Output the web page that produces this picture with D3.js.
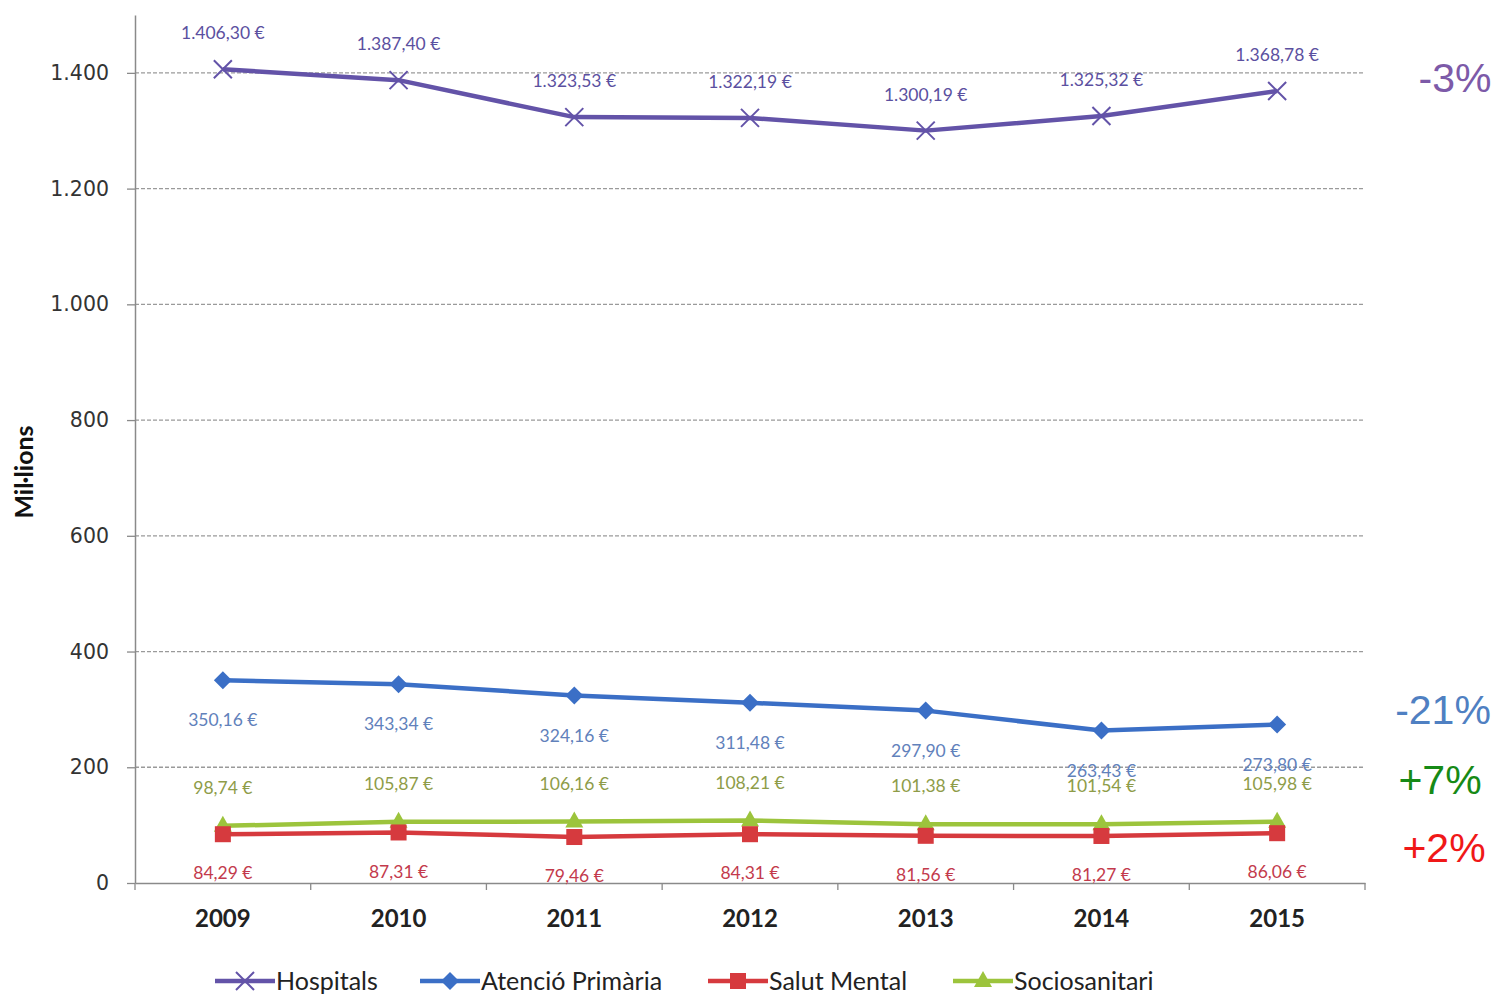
<!DOCTYPE html>
<html>
<head>
<meta charset="utf-8">
<script src="https://cdn.jsdelivr.net/npm/d3@7"></script>
<style>
  html, body { margin: 0; padding: 0; background: #fff; }
  svg { display: block; }
</style>
</head>
<body>
<svg id="chart" width="1497" height="994"></svg>
<script>
// Annual spending by healthcare area (millions of euros)
const years = ["2009", "2010", "2011", "2012", "2013", "2014", "2015"];
const hospitals = [1406.30, 1387.40, 1323.53, 1322.19, 1300.19, 1325.32, 1368.78];
const atencioPrimaria = [350.16, 343.34, 324.16, 311.48, 297.90, 263.43, 273.80];
const salutMental = [84.29, 87.31, 79.46, 84.31, 81.56, 81.27, 86.06];
const sociosanitari = [98.74, 105.87, 106.16, 108.21, 101.38, 101.54, 105.98];
const yTicks = [0, 200, 400, 600, 800, 1000, 1200, 1400];
const seriesNames = ["Hospitals", "Atenció Primària", "Salut Mental", "Sociosanitari"];
const changeLabels = ["-3%", "-21%", "+7%", "+2%"];

const locale = d3.formatLocale({ decimal: ",", thousands: ".", grouping: [3], currency: ["", " €"] });
const fmtTick = locale.format(",d");
const fmtVal = v => locale.format(",.2f")(v) + " €";

const svg = d3.select("#chart");
const plot = { left: 135, right: 1365, top: 15, bottom: 883 };

const x = d3.scaleBand().domain(years).range([plot.left, plot.right]);
const y = d3.scaleLinear().domain([0, 1500]).range([plot.bottom, plot.top]);
const cx = d => x(d) + x.bandwidth() / 2;

// gridlines
svg.append("g").selectAll("line")
  .data(yTicks.filter(t => t > 0))
  .join("line")
  .attr("x1", plot.left).attr("x2", plot.right)
  .attr("y1", d => y(d)).attr("y2", d => y(d))
  .attr("stroke", "#9a9a9a").attr("stroke-width", 1.3)
  .attr("stroke-dasharray", "4,2");

// y axis (line runs a little above the top value)
const yAxis = svg.append("g")
  .attr("transform", `translate(${plot.left},0)`)
  .call(d3.axisLeft(y).tickValues(yTicks).tickFormat(fmtTick).tickSize(8).tickSizeOuter(0).tickPadding(18));
yAxis.select(".domain").attr("stroke", "#8a8a8a").attr("stroke-width", 1.5);
yAxis.selectAll(".tick line").attr("stroke", "#8a8a8a").attr("stroke-width", 1.3);
yAxis.selectAll(".tick text")
  .attr("font-family", "DejaVu Sans").attr("font-size", 20.5).attr("fill", "#333");

// x axis
const xAxis = svg.append("g")
  .attr("transform", `translate(0,${plot.bottom})`)
  .call(d3.axisBottom(x).tickSize(0).tickPadding(27));
xAxis.select(".domain").attr("stroke", "#8a8a8a").attr("stroke-width", 1.5);
xAxis.selectAll(".tick text")
  .attr("font-family", "Lato").attr("font-weight", "bold").attr("font-size", 24).attr("fill", "#222");
// category separator ticks
svg.append("g").selectAll("line")
  .data(years.concat(["end"]))
  .join("line")
  .attr("x1", (d, i) => plot.left + i * x.bandwidth())
  .attr("x2", (d, i) => plot.left + i * x.bandwidth())
  .attr("y1", plot.bottom).attr("y2", plot.bottom + 7)
  .attr("stroke", "#8a8a8a").attr("stroke-width", 1.3);

// y axis title
svg.append("text")
  .attr("transform", "translate(33,472) rotate(-90)")
  .attr("text-anchor", "middle")
  .attr("font-family", "Lato").attr("font-weight", "bold").attr("font-size", 25)
  .attr("fill", "#111")
  .text("Mil·lions");

// marker shapes
function drawMarker(g, type, color, px, py) {
  if (type === "x") {
    const s = 9;
    g.append("path")
      .attr("d", `M${px - s},${py - s}L${px + s},${py + s}M${px - s},${py + s}L${px + s},${py - s}`)
      .attr("stroke", color).attr("stroke-width", 2).attr("fill", "none");
  } else if (type === "diamond") {
    const s = 9;
    g.append("path")
      .attr("d", `M${px},${py - s}L${px + s},${py}L${px},${py + s}L${px - s},${py}Z`)
      .attr("fill", color);
  } else if (type === "square") {
    const s = 8;
    g.append("rect").attr("x", px - s).attr("y", py - s).attr("width", 2 * s).attr("height", 2 * s)
      .attr("fill", color);
  } else if (type === "triangle") {
    const s = 10;
    g.append("path")
      .attr("d", `M${px},${py - s}L${px + s * 0.9},${py + s * 0.6}L${px - s * 0.9},${py + s * 0.6}Z`)
      .attr("fill", color);
  }
}

const series = [
  { name: seriesNames[0], values: hospitals, color: "#6353a8", label: "#5b50a0", marker: "x", dy: -36 },
  { name: seriesNames[1], values: atencioPrimaria, color: "#3b6fc6", label: "#6181bb", marker: "diamond", dy: 40 },
  { name: seriesNames[2], values: salutMental, color: "#d63a3e", label: "#c33a4c", marker: "square", dy: 39 },
  { name: seriesNames[3], values: sociosanitari, color: "#9cc43c", label: "#8e9c48", marker: "triangle", dy: -38 }
];

const line = d3.line().x((d, i) => cx(years[i])).y(d => y(d));

// draw lower series first so hospitals/primary care sit on top
[3, 2, 1, 0].forEach(k => {
  const s = series[k];
  const g = svg.append("g");
  g.append("path").datum(s.values)
    .attr("d", line).attr("fill", "none")
    .attr("stroke", s.color).attr("stroke-width", 4.5)
    .attr("stroke-linejoin", "round");
  s.values.forEach((v, i) => drawMarker(g, s.marker, s.color, cx(years[i]), y(v)));
});

// value labels
series.forEach(s => {
  svg.append("g").selectAll("text")
    .data(s.values)
    .join("text")
    .attr("x", (d, i) => cx(years[i]))
    .attr("y", d => y(d) + s.dy)
    .attr("dy", "0.35em")
    .attr("text-anchor", "middle")
    .attr("font-family", "Lato").attr("font-size", 17.5)
    .attr("fill", s.label)
    .text(d => fmtVal(d));
});

// change percentages
const changes = [
  { text: changeLabels[0], color: "#7d5aa8", y: 78, x: 1455 },
  { text: changeLabels[1], color: "#4f80c2", y: 710, x: 1443 },
  { text: changeLabels[2], color: "#168a16", y: 780, x: 1440 },
  { text: changeLabels[3], color: "#f01818", y: 848, x: 1444 }
];
svg.append("g").selectAll("text")
  .data(changes)
  .join("text")
  .attr("x", d => d.x).attr("y", d => d.y)
  .attr("dy", "0.35em")
  .attr("text-anchor", "middle")
  .attr("font-family", "Liberation Sans").attr("font-size", 41)
  .attr("fill", d => d.color)
  .text(d => d.text);

// legend
const legendX = [215, 420, 708, 953];
const legend = svg.append("g");
series.forEach((s, i) => {
  const lx = legendX[i], ly = 981;
  legend.append("line")
    .attr("x1", lx).attr("x2", lx + 60).attr("y1", ly).attr("y2", ly)
    .attr("stroke", s.color).attr("stroke-width", 4.5);
  drawMarker(legend, s.marker, s.color, lx + 30, ly);
  legend.append("text")
    .attr("x", lx + 61).attr("y", ly).attr("dy", "0.35em")
    .attr("font-family", "Lato").attr("font-size", 25).attr("fill", "#222")
    .text(s.name);
});
</script>
</body>
</html>
